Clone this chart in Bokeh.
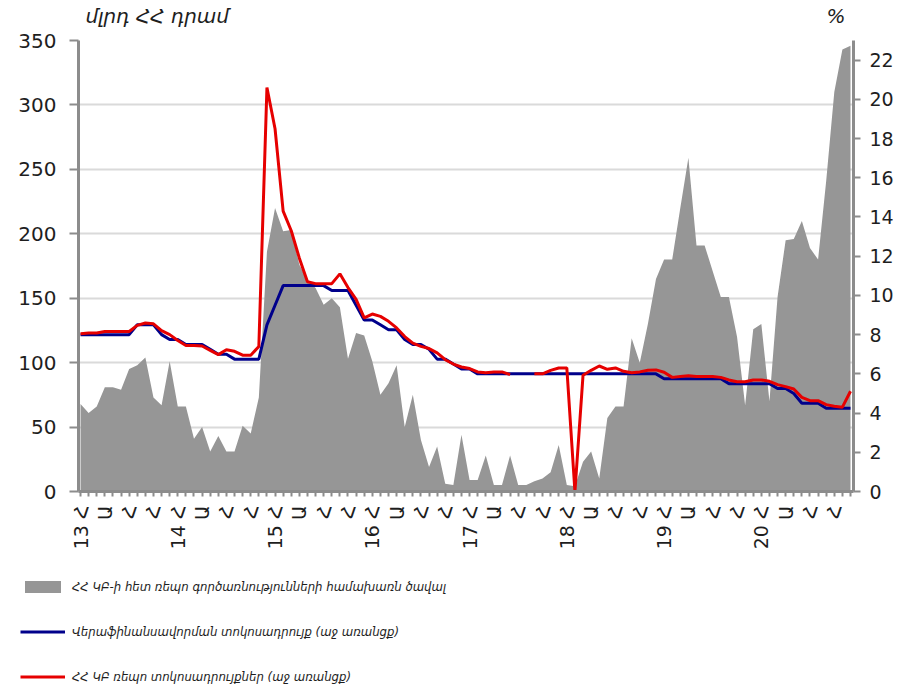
from math import pi
import numpy as np
from bokeh.plotting import figure
from bokeh.layouts import column
from bokeh.models import (Range1d, LinearAxis, FixedTicker, Legend, LegendItem,
                          Label, ColumnDataSource)
from bokeh.embed import file_html
from bokeh.resources import INLINE

NaN = float("nan")

years = ["13", "14", "15", "16", "17", "18", "19", "20"]
quarter_letters = ["Հ", "Ա", "Հ", "Հ"]

# repo volume with CBA, bln AMD (left axis), monthly Jan 2013 - Dec 2020
repo_volume = [
    68, 61, 66, 81, 81, 79, 95, 98, 104, 73, 67, 101,
    66, 66, 41, 50, 31, 43, 31, 31, 51, 45, 73, 186,
    220, 202, 203, 176, 164, 158, 145, 150, 143, 103, 123, 121,
    101, 75, 84, 98, 50, 75, 40, 19, 35, 6, 5, 44,
    9, 9, 28, 5, 5, 28, 5, 5, 8, 10, 15, 36,
    5, 4, 23, 31, 10, 57, 66, 66, 119, 100, 130, 165,
    180, 180, 220, 259, 191, 191, 171, 151, 151, 120, 67, 126,
    130, 70, 151, 195, 196, 210, 189, 180, 241, 310, 343, 346,
]

# refinancing rate, % (right axis)
refinancing_rate = [
    8.0, 8.0, 8.0, 8.0, 8.0, 8.0, 8.0, 8.5, 8.5, 8.5, 8.0, 7.75,
    7.75, 7.5, 7.5, 7.5, 7.25, 7.0, 7.0, 6.75, 6.75, 6.75, 6.75, 8.5,
    9.5, 10.5, 10.5, 10.5, 10.5, 10.5, 10.5, 10.25, 10.25, 10.25, 9.5, 8.75,
    8.75, 8.5, 8.25, 8.25, 7.75, 7.5, 7.5, 7.25, 6.75, 6.75, 6.5, 6.25,
    6.25, 6.0, 6.0, 6.0, 6.0, 6.0, 6.0, 6.0, 6.0, 6.0, 6.0, 6.0,
    6.0, 6.0, 6.0, 6.0, 6.0, 6.0, 6.0, 6.0, 6.0, 6.0, 6.0, 6.0,
    5.75, 5.75, 5.75, 5.75, 5.75, 5.75, 5.75, 5.75, 5.5, 5.5, 5.5, 5.5,
    5.5, 5.5, 5.25, 5.25, 5.0, 4.5, 4.5, 4.5, 4.25, 4.25, 4.25, 4.25,
]

# CBA repo rates, % (right axis)
repo_rate = [
    8.05, 8.08, 8.08, 8.16, 8.16, 8.16, 8.16, 8.47, 8.59, 8.55, 8.2, 8.0,
    7.7, 7.45, 7.45, 7.42, 7.2, 6.98, 7.23, 7.15, 6.95, 6.95, 7.4, 20.6,
    18.5, 14.3, 13.3, 11.9, 10.7, 10.6, 10.6, 10.6, 11.1, 10.4, 9.8, 8.85,
    9.05, 8.93, 8.68, 8.34, 7.9, 7.57, 7.4, 7.29, 7.07, 6.72, 6.5, 6.35,
    6.27, 6.1, 6.06, 6.1, 6.1, 5.96, NaN, NaN, 6.01, 6.0, 6.18, 6.3,
    6.3, 0.0, 5.93, 6.18, 6.4, 6.23, 6.3, 6.13, 6.06, 6.1, 6.18, 6.2,
    6.08, 5.82, 5.87, 5.9, 5.86, 5.86, 5.86, 5.82, 5.69, 5.6, 5.6, 5.69,
    5.69, 5.62, 5.45, 5.35, 5.23, 4.8, 4.63, 4.63, 4.43, 4.35, 4.3, 5.11,
]

series_names = [
    "ՀՀ ԿԲ-ի հետ ռեպո գործառնությունների համախառն ծավալ",
    "Վերաֆինանսավորման տոկոսադրույք (աջ առանցք)",
    "ՀՀ ԿԲ ռեպո տոկոսադրույքներ (աջ առանցք)",
]
left_title = "մլրդ ՀՀ դրամ"
right_title = "%"

months = list(range(len(repo_volume)))
src = ColumnDataSource(dict(
    x=months,
    vol=np.array(repo_volume, dtype=float),
    refi=np.array(refinancing_rate, dtype=float),
    repo=np.array(repo_rate, dtype=float),
))

tick_labels = {}
for i in months:
    if i % 3 == 0:
        q = (i % 12) // 3
        lab = quarter_letters[q]
        if q == 0:
            lab = years[i // 12] + " " + lab
        tick_labels[i] = lab
    else:
        tick_labels[i] = ""

AX = "#8c8c8c"
TXT = "#1e1e1e"
FONT = "DejaVu Sans"
LEG_FONT = "DejaVu Sans Condensed"
GRAY = "#969696"
BLUE = "#00008b"
RED = "#e60000"
W = 896
FL, FR = 78, 41          # frame borders (left / right) of the main chart
TOP_H = 28
MAIN_H = 537
LEG_H = 684 - TOP_H - MAIN_H

# ---- top strip with the axis titles
top = figure(width=W, height=TOP_H, x_range=Range1d(FL, W - FR), y_range=Range1d(0, TOP_H),
             x_axis_type=None, y_axis_type=None, output_backend="svg",
             toolbar_location=None, min_border_left=FL, min_border_right=FR,
             min_border_top=0, min_border_bottom=0)
top.outline_line_color = None
top.grid.visible = False
top.add_layout(Label(x=85, y=13, text=left_title, text_font=FONT,
                     text_font_style="italic", text_font_size="20px",
                     text_baseline="middle", text_color=TXT))
top.add_layout(Label(x=826, y=13, text=right_title, text_font=FONT,
                     text_font_style="italic", text_font_size="20px",
                     text_baseline="middle", text_color=TXT))

# ---- main chart
p = figure(width=W, height=MAIN_H, x_range=Range1d(-0.25, 95.37),
           y_range=Range1d(0, 350), output_backend="svg", toolbar_location=None,
           min_border_left=FL, min_border_right=FR, min_border_top=12,
           min_border_bottom=74)
p.extra_y_ranges = {"pct": Range1d(0, 23)}
p.outline_line_color = None
p.background_fill_color = "white"
p.border_fill_color = "white"

p.xgrid.visible = False
p.ygrid.ticker = FixedTicker(ticks=list(range(0, 351, 50)))
p.ygrid.grid_line_color = "#dadada"
p.ygrid.grid_line_width = 2

ya = p.yaxis[0]
ya.ticker = FixedTicker(ticks=list(range(0, 351, 50)))
ra = LinearAxis(y_range_name="pct", ticker=FixedTicker(ticks=list(range(0, 23, 2))))
p.add_layout(ra, "right")
for ax in (ya, ra):
    ax.axis_line_color = AX
    ax.axis_line_width = 3
    ax.major_tick_line_color = AX
    ax.major_tick_line_width = 2
    ax.major_tick_in = 0
    ax.minor_tick_line_color = None
    ax.major_label_text_font = FONT
    ax.major_label_text_color = TXT
ya.major_tick_out = 9
ya.major_label_standoff = 13
ya.major_label_text_font_size = "20px"
ra.major_tick_out = 7
ra.major_label_standoff = 9
ra.major_label_text_font_size = "19px"

xa = p.xaxis[0]
xa.ticker = FixedTicker(ticks=months)
xa.major_label_overrides = tick_labels
xa.major_label_orientation = pi / 2
xa.axis_line_color = AX
xa.axis_line_width = 3
xa.major_tick_line_color = AX
xa.major_tick_line_width = 2
xa.major_tick_out = 5
xa.major_tick_in = 0
xa.minor_tick_line_color = None
xa.major_label_standoff = 9
xa.major_label_text_font = FONT
xa.major_label_text_font_size = "19px"
xa.major_label_text_color = TXT

p.varea(x="x", y1=0, y2="vol", source=src, fill_color=GRAY)
p.line(x="x", y="refi", source=src, y_range_name="pct", line_color=BLUE, line_width=3)
p.line(x="x", y="repo", source=src, y_range_name="pct", line_color=RED, line_width=3)

# ---- legend strip (hidden copies of the series only provide the legend swatches)
leg = figure(width=W, height=LEG_H, x_range=Range1d(0, W), y_range=Range1d(0, LEG_H),
             x_axis_type=None, y_axis_type=None, output_backend="svg",
             toolbar_location=None, min_border_left=0, min_border_right=0,
             min_border_top=0, min_border_bottom=0)
leg.outline_line_color = None
leg.grid.visible = False
sw_area = leg.varea(x="x", y1=0, y2="vol", source=src, fill_color=GRAY, visible=False)
sw_blue = leg.line(x="x", y="refi", source=src, line_color=BLUE, line_width=3, visible=False)
sw_red = leg.line(x="x", y="repo", source=src, line_color=RED, line_width=3, visible=False)
legend = Legend(items=[LegendItem(label=series_names[0], renderers=[sw_area]),
                       LegendItem(label=series_names[1], renderers=[sw_blue]),
                       LegendItem(label=series_names[2], renderers=[sw_red])],
                location=(20, 0), orientation="vertical",
                glyph_width=45, glyph_height=15, label_height=15, spacing=30,
                padding=0, margin=0, label_standoff=7,
                border_line_color=None, background_fill_alpha=0,
                inactive_fill_alpha=0,
                label_text_font=LEG_FONT, label_text_font_style="italic",
                label_text_font_size="13px", label_text_color=TXT)
leg.add_layout(legend)

figs = (top, p, leg)
if "frame_align" in leg.properties():
    for f in figs:
        f.frame_align = False
    html = file_html(column(*figs, spacing=0), INLINE)
else:
    html = file_html(list(figs), INLINE)
open("out.html", "w").write(html)
